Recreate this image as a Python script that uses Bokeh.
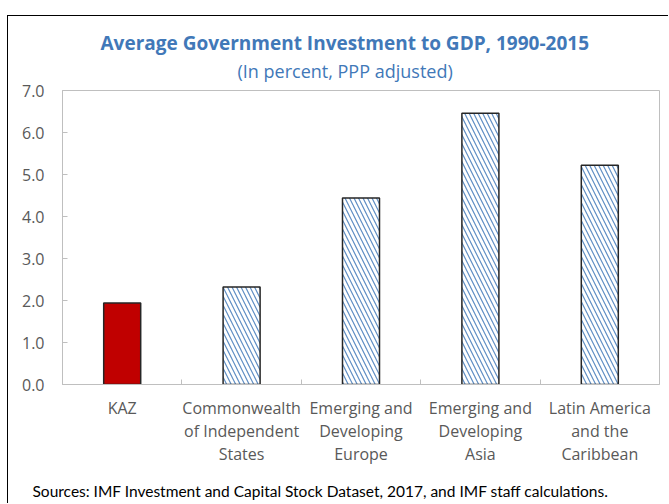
from bokeh.plotting import figure
from bokeh.models import ColumnDataSource, Range1d, FixedTicker, Title, NumeralTickFormatter
from bokeh.embed import file_html
from bokeh.resources import INLINE

# ---- data ----
categories = ["KAZ", "Commonwealth of Independent States", "Emerging and Developing Europe",
              "Emerging and Developing Asia", "Latin America and the Caribbean"]
category_labels = ["KAZ", "Commonwealth\nof Independent\nStates", "Emerging and\nDeveloping\nEurope",
                   "Emerging and\nDeveloping\nAsia", "Latin America\nand the\nCaribbean"]
investment_pct = [1.94, 2.32, 4.44, 6.46, 5.22]
y_ticks = [0, 1, 2, 3, 4, 5, 6, 7]
title_text = "Average Government Investment to GDP, 1990-2015"
subtitle_text = "(In percent, PPP adjusted)"
source_text = "Sources: IMF Investment and Capital Stock Dataset, 2017, and IMF staff calculations."
highlight = "KAZ"

# ---- styling ----
BLUE = "#4178b8"
GREY_AX = "#bfbfbf"
TXT = "#595959"
FONT = "Open Sans"

xs = [i + 0.5 for i in range(len(categories))]
fills = ["#c00000" if c == highlight else "white" for c in categories]
hatches = [" " if c == highlight else "\\" for c in categories]
src = ColumnDataSource(dict(x=xs, v=investment_pct, fill=fills, hatch=hatches))

p = figure(width=661, height=488, x_range=Range1d(0, len(categories)), y_range=Range1d(y_ticks[0], y_ticks[-1]),
           output_backend="svg", toolbar_location=None,
           min_border_left=54, min_border_right=10, min_border_top=74, min_border_bottom=120,
           outline_line_color=GREY_AX, outline_line_width=1,
           background_fill_color="white", border_fill_color="white",
           styles={"border-top": "1px solid #000", "border-left": "1px solid #000",
                   "margin-top": "15px", "margin-left": "7px"})
p.xgrid.visible = False
p.ygrid.visible = False

p.vbar(x="x", top="v", width=0.31, bottom=0, source=src, fill_color="fill",
       hatch_pattern="hatch", hatch_color=BLUE, hatch_scale=9, hatch_weight=1.2, hatch_alpha=0.85,
       line_color="#262626", line_width=1.5)

ya = p.yaxis[0]
ya.ticker = FixedTicker(ticks=y_ticks)
ya.formatter = NumeralTickFormatter(format="0.0")
ya.axis_line_color = GREY_AX
ya.major_tick_line_color = GREY_AX
ya.major_tick_in = 5
ya.major_tick_out = 0
ya.minor_tick_line_color = None
ya.major_label_standoff = 18
ya.major_label_text_font = FONT
ya.major_label_text_font_size = "16px"
ya.major_label_text_color = TXT

xa = p.xaxis[0]
xa.ticker = FixedTicker(ticks=xs, minor_ticks=list(range(1, len(categories))))
xa.major_label_overrides = {x: lab for x, lab in zip(xs, category_labels)}
xa.axis_line_color = GREY_AX
xa.major_tick_line_color = None
xa.major_tick_in = 0
xa.major_tick_out = 0
xa.minor_tick_line_color = GREY_AX
xa.minor_tick_in = 5
xa.minor_tick_out = 0
xa.major_label_standoff = 12
xa.major_label_text_font = FONT
xa.major_label_text_font_size = "16px"
xa.major_label_text_color = TXT
xa.major_label_text_align = "center"
xa.major_label_text_line_height = 1.05
# invisible spacer label to push the source note down
xa.axis_label = " "
xa.axis_label_text_font = "Lato"
xa.axis_label_text_font_size = "6px"
xa.axis_label_standoff = 1

# subtitle first (nearest the frame), then main title above it
p.add_layout(Title(text=subtitle_text, align="left", offset=175, standoff=16,
                   text_font=FONT, text_font_style="normal", text_font_size="18px",
                   text_color=BLUE), "above")
p.add_layout(Title(text=title_text, align="left", offset=38, standoff=-14,
                   text_font=FONT, text_font_style="bold", text_font_size="19px",
                   text_color=BLUE), "above")
p.add_layout(Title(text=source_text, align="left", offset=-30, standoff=2,
                   text_font="Lato", text_font_style="normal", text_font_size="15.5px",
                   text_color="#000000"), "below")

open("out.html", "w").write(file_html(p, INLINE))
